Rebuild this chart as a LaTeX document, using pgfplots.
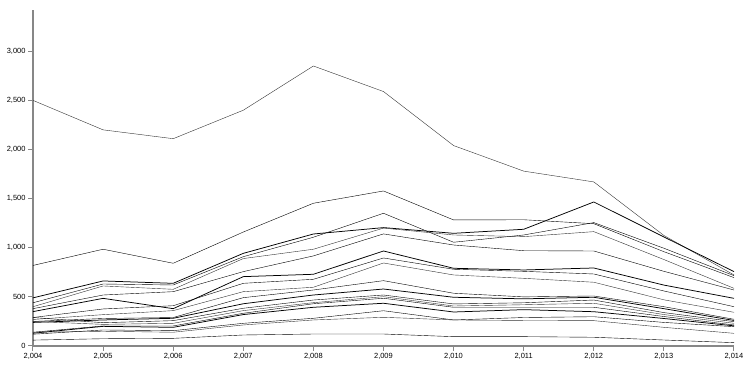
\documentclass[border=0pt]{standalone}
\usepackage{fontspec}
\setmainfont{Liberation Sans}
\usepackage{pgfplots}
\pgfplotsset{compat=1.18}
\begin{document}
\begin{tikzpicture}
\begin{axis}[
  scale only axis,
  width=701bp, height=336bp,
  xmin=2004, xmax=2014, ymin=0, ymax=3420,
  axis x line=bottom, axis y line=left,
  axis line style={-, draw=black!47, line width=1.6bp},
  xtick={2004,...,2014},
  ytick={0,500,...,3000},
  tick style={draw=black!47, line width=1bp},
  tick align=outside, major tick length=5bp,
  scaled y ticks=false, scaled x ticks=false,
  /pgf/number format/1000 sep={,},
  /pgf/number format/assume math mode=true,
  tick label style={font=\fontsize{7.5}{8}\selectfont, text=black},
  xticklabel style={yshift=1bp},
  yticklabel style={xshift=1bp},
  cycle list={{draw=black!80, solid, line width=0.75bp, no markers}},
  clip=false,
]
\addplot coordinates {(2004,2500)(2005,2200)(2006,2110)(2007,2400)(2008,2850)(2009,2590)(2010,2040)(2011,1780)(2012,1670)(2013,1125)(2014,723)};
\addplot coordinates {(2004,820)(2005,985)(2006,842)(2007,1160)(2008,1453)(2009,1578)(2010,1283)(2011,1285)(2012,1245)(2013,960)(2014,696)};
\addplot coordinates {(2004,490)(2005,662)(2006,638)(2007,943)(2008,1140)(2009,1205)(2010,1147)(2011,1188)(2012,1466)(2013,1110)(2014,757)};
\addplot coordinates {(2004,440)(2005,631)(2006,621)(2007,909)(2008,1107)(2009,1351)(2010,1056)(2011,1130)(2012,1256)(2013,995)(2014,716)};
\addplot coordinates {(2004,400)(2005,611)(2006,577)(2007,890)(2008,985)(2009,1200)(2010,1130)(2011,1113)(2012,1164)(2013,880)(2014,587)};
\addplot coordinates {(2004,380)(2005,519)(2006,553)(2007,757)(2008,917)(2009,1141)(2010,1028)(2011,970)(2012,967)(2013,760)(2014,570)};
\addplot coordinates {(2004,350)(2005,485)(2006,380)(2007,706)(2008,730)(2009,967)(2010,791)(2011,774)(2012,794)(2013,620)(2014,485)};
\addplot coordinates {(2004,290)(2005,377)(2006,410)(2007,638)(2008,679)(2009,896)(2010,781)(2011,760)(2012,733)(2013,560)(2014,400)};
\addplot coordinates {(2004,270)(2005,319)(2006,360)(2007,553)(2008,598)(2009,845)(2010,723)(2011,689)(2012,649)(2013,470)(2014,343)};
\addplot coordinates {(2004,250)(2005,280)(2006,290)(2007,492)(2008,570)(2009,665)(2010,537)(2011,500)(2012,509)(2013,400)(2014,272)};
\addplot coordinates {(2004,240)(2005,265)(2006,282)(2007,430)(2008,519)(2009,580)(2010,496)(2011,480)(2012,496)(2013,380)(2014,260)};
\addplot coordinates {(2004,290)(2005,237)(2006,258)(2007,384)(2008,468)(2009,519)(2010,428)(2011,440)(2012,468)(2013,340)(2014,248)};
\addplot coordinates {(2004,250)(2005,220)(2006,231)(2007,360)(2008,441)(2009,502)(2010,407)(2011,420)(2012,435)(2013,320)(2014,231)};
\addplot coordinates {(2004,140)(2005,204)(2006,204)(2007,333)(2008,430)(2009,486)(2010,394)(2011,394)(2012,394)(2013,300)(2014,214)};
\addplot coordinates {(2004,130)(2005,200)(2006,190)(2007,320)(2008,394)(2009,435)(2010,346)(2011,370)(2012,349)(2013,280)(2014,205)};
\addplot coordinates {(2004,120)(2005,163)(2006,156)(2007,231)(2008,282)(2009,359)(2010,265)(2011,290)(2012,298)(2013,240)(2014,197)};
\addplot coordinates {(2004,140)(2005,150)(2006,140)(2007,214)(2008,265)(2009,292)(2010,265)(2011,260)(2012,258)(2013,190)(2014,129)};
\addplot coordinates {(2004,60)(2005,74)(2006,78)(2007,112)(2008,122)(2009,122)(2010,95)(2011,95)(2012,89)(2013,61)(2014,34)};
\end{axis}
\pgfresetboundingbox
\path[use as bounding box] ([shift={(-33bp,-23bp)}]current axis.south west) rectangle ([shift={(11bp,10bp)}]current axis.north east);
\end{tikzpicture}
\end{document}
